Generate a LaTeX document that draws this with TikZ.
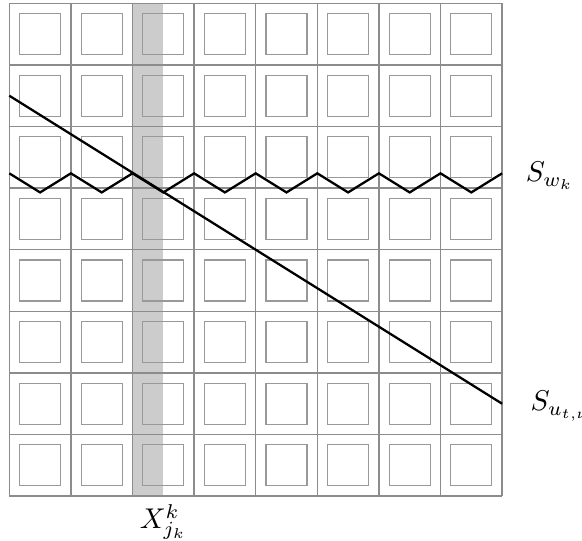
\documentclass[tikz,border=0pt]{standalone}
\begin{document}
\begin{tikzpicture}[x=21.56pt,y=21.56pt,
  gridline/.style={draw=black!45, line width=0.45pt},
  cellbox/.style={draw=black!40, line width=0.4pt},
  curve/.style={draw=black, line width=0.8pt},
  band/.style={fill=black!20}]
\useasboundingbox (-0.151,-0.728) rectangle (9.297,8.054);
\fill[band] (2,0) rectangle (2.5,8);
\foreach \i in {0,...,7} {
  \foreach \j in {0,...,7} {
    \draw[cellbox] (\i+1/6,\j+1/6) rectangle (\i+5/6,\j+5/6);
  }
}
\draw[gridline, step=1] (0,0) grid (8,8);
\coordinate (a) at (0,6.5);
\coordinate (b) at (8,1.5);
\draw[curve] (a) -- (b);
\coordinate (z0) at (0,5.24);
\draw[curve] (z0) \foreach \i in {0,...,7} { -- (\i+0.5,4.93) -- (\i+1,5.24) } coordinate (z8);
\node[anchor=west] (sw) at (8.22,5.2) {$S_{w_k}$};
\node[anchor=west] (su) at (8.30,1.46) {$S_{u_{t,\nu}}$};
\node (xj) at (2.5,-0.42) {$X^k_{j_k}$};
\end{tikzpicture}
\end{document}
